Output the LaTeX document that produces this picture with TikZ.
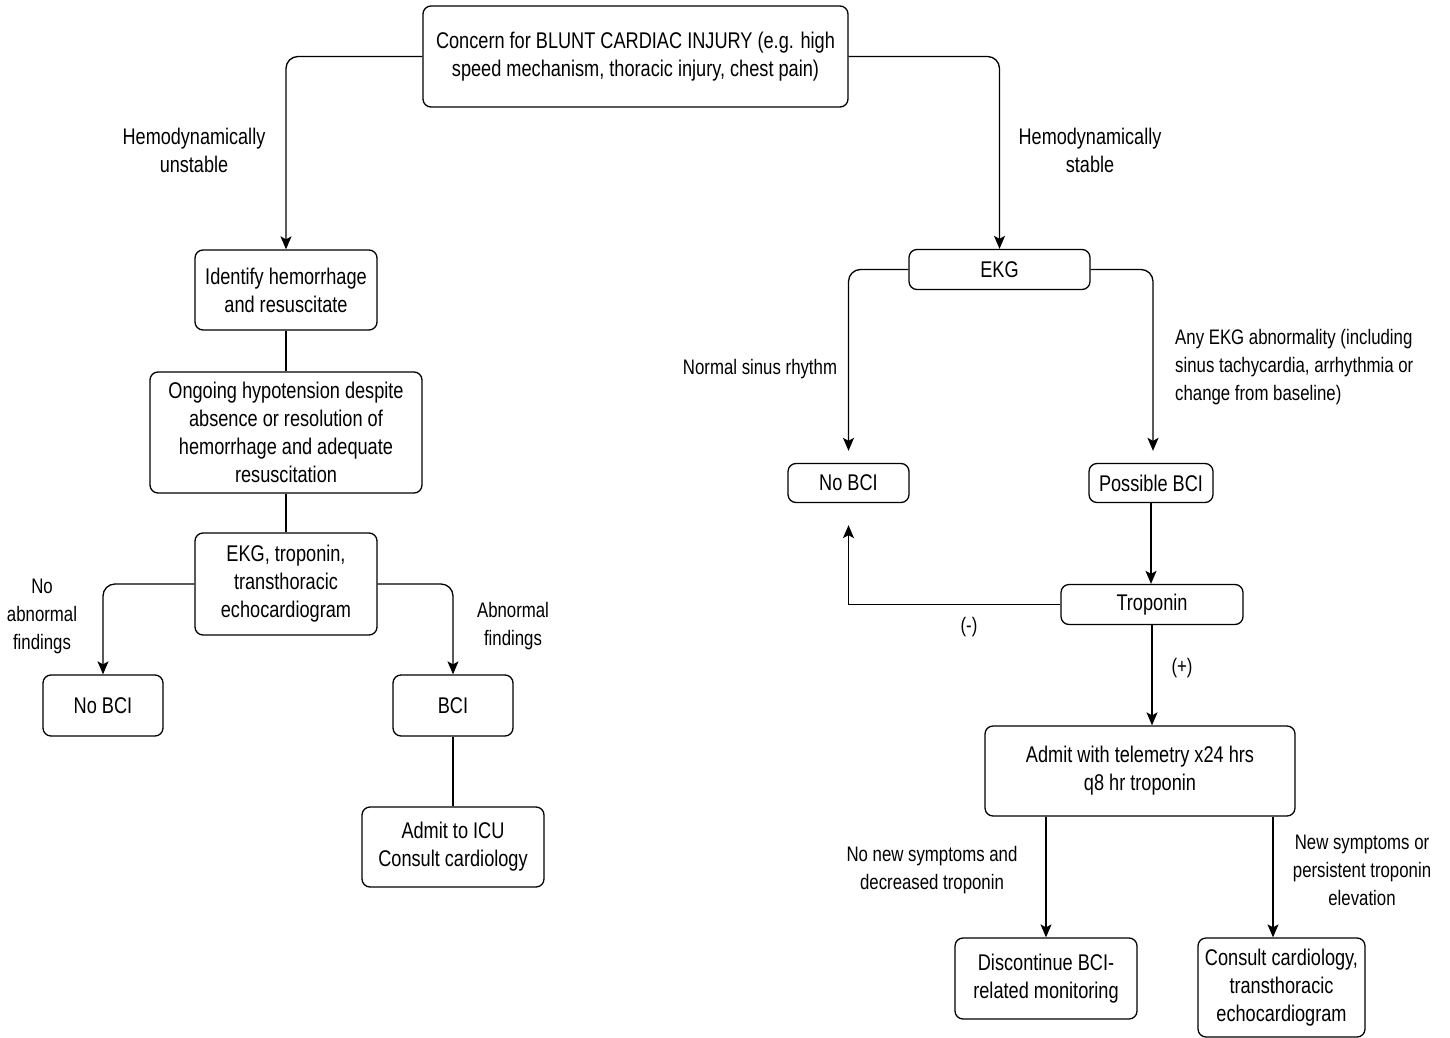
\documentclass[tikz,border=0pt]{standalone}
\usepackage{fontspec}
\setmainfont{Liberation Sans}[FakeStretch=0.8]
\usetikzlibrary{arrows.meta}
\newcommand\dfs{\fontsize{21}{28}\selectfont}
\newcommand\hfs{\fontsize{22.6}{28}\selectfont}
\newcommand\bfsz{\fontsize{22.7}{28}\selectfont}
\begin{document}
\begin{tikzpicture}[x=1pt,y=-1pt,
  box/.style={draw, rounded corners=8pt, line width=1.3pt, align=center, inner sep=0pt, font=\bfsz},
  wh/.style 2 args={minimum width=#1, minimum height=#2},
  lbl/.style={align=center, inner sep=0pt, font=\dfs},
  ln/.style={line width=1.3pt},
  arr/.style={line width=1.3pt, -{Stealth[length=13pt,width=11pt,inset=3pt]}},
  rc/.style={rounded corners=12pt}]
\path[use as bounding box, fill=white] (0,0) rectangle (1450,1038);

% boxes
\node[box, wh={425}{101}] (top) at (635.5,56.5) {Concern for BLUNT CARDIAC INJURY (e.g. high\\speed mechanism, thoracic injury, chest pain)};
\node[box, wh={182}{80}] (ident) at (286,290) {Identify hemorrhage\\and resuscitate};
\node[box, wh={272}{121}] (ongo) at (286,432.5) {Ongoing hypotension despite\\absence or resolution of\\hemorrhage and adequate\\resuscitation};
\node[box, wh={182}{102}] (ekgt) at (286,584) {EKG, troponin,\\transthoracic\\echocardiogram};
\node[box, wh={120}{61}] (nobciL) at (103,705.5) {No BCI};
\node[box, wh={120}{61}] (bciL) at (453,705.5) {BCI};
\node[box, wh={182}{80}] (icu) at (453,847) {Admit to ICU\\Consult cardiology};
\node[box, wh={181}{40}] (ekg) at (999.5,269.5) {EKG};
\node[box, wh={121}{39}] (nobciR) at (848.5,483) {No BCI};
\node[box, wh={124}{39}] (pbci) at (1151,483) {Possible BCI};
\node[box, wh={182}{40}] (trop) at (1152,604.5) {Troponin};
\node[box, wh={310}{90}] (admit) at (1140,771) {Admit with telemetry x24 hrs\\q8 hr troponin};
\node[box, wh={182}{81}] (disc) at (1046,978.5) {Discontinue BCI-\\related monitoring};
\node[box, wh={167}{99}] (cons) at (1281.5,987.5) {Consult cardiology,\\transthoracic\\echocardiogram};

% labels
\node[lbl, font=\hfs] (l1) at (194,150) {Hemodynamically\\unstable};
\node[lbl, font=\hfs] (l2) at (1090,150) {Hemodynamically\\stable};
\node[lbl] (l3) at (42,616) {No\\abnormal\\findings};
\node[lbl] (l4) at (513,626) {Abnormal\\findings};
\node[lbl] (l5) at (760,369) {Normal sinus rhythm};
\node[lbl, align=left, anchor=west] (l6) at (1175,367) {Any EKG abnormality (including\\sinus tachycardia, arrhythmia or\\change from baseline)};
\node[lbl] (l7) at (969,627) {(-)};
\node[lbl] (l8) at (1182,668) {(+)};
\node[lbl] (l9) at (932,870) {No new symptoms and\\decreased troponin};
\node[lbl] (l10) at (1362,870) {New symptoms or\\persistent troponin\\elevation};

% connectors
\draw[arr, rc] (top.west) -| (ident.north);
\draw[arr, rc] (top.east) -| (ekg.north);
\draw[ln] (ident.south) -- (ongo.north);
\draw[ln] (ongo.south) -- (ekgt.north);
\draw[arr, rc] (ekgt.west) -| (nobciL.north);
\draw[arr, rc] (ekgt.east) -| (bciL.north);
\draw[ln] (bciL.south) -- (icu.north);
\draw[arr, rc, shorten >=12pt] (ekg.west) -| (nobciR.north);
\draw[arr, rc, shorten >=12pt] (ekg.east) -| ([xshift=2pt]pbci.north);
\draw[arr] (pbci.south) -- (pbci.south |- trop.north);
\draw[arr, shorten >=22pt] (trop.west) -| (nobciR.south);
\draw[arr] (trop.south) -- (trop.south |- admit.north);
\draw[arr] (disc.north |- admit.south) -- (disc.north);
\draw[arr] ([xshift=-8.5pt]cons.north |- admit.south) -- ([xshift=-8.5pt]cons.north);
\end{tikzpicture}
\end{document}
